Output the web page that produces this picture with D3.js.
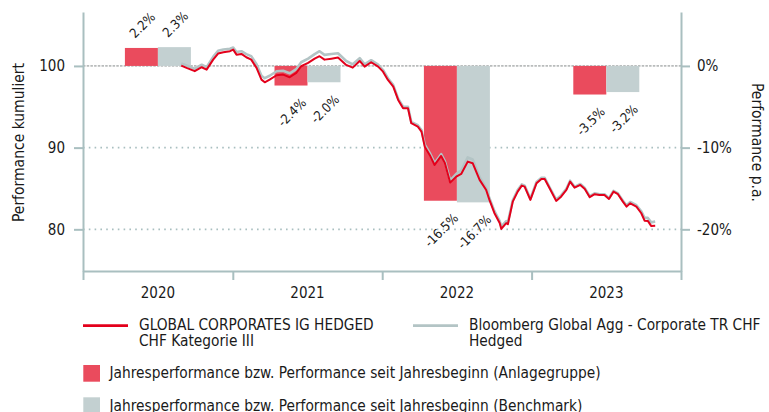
<!DOCTYPE html>
<html>
<head>
<meta charset="utf-8">
<script src="https://cdn.jsdelivr.net/npm/d3@7"></script>
<style>
  body { margin: 0; background: #fff; }
  svg { display: block; }
</style>
</head>
<body>
<div id="chart"></div>
<script>
// yearly bars (percent)
const years = [2020, 2021, 2022, 2023];
const fundYear = [2.2, -2.4, -16.5, -3.5];
const benchYear = [2.3, -2.0, -16.7, -3.2];

// cumulative performance
const dates = [
  "2020-08-28", "2020-09-10", "2020-09-30", "2020-10-17", "2020-10-29", "2020-11-14", "2020-11-26", "2020-12-09", "2020-12-25",
  "2021-01-02", "2021-01-10", "2021-01-22", "2021-02-03", "2021-02-15", "2021-02-28", "2021-03-12", "2021-03-20", "2021-04-01",
  "2021-04-18", "2021-05-04", "2021-05-20", "2021-06-05", "2021-06-17", "2021-07-04", "2021-07-20", "2021-08-01", "2021-08-13",
  "2021-08-30", "2021-09-15", "2021-10-05", "2021-10-21", "2021-11-07", "2021-11-19", "2021-12-05", "2021-12-22",
  "2022-01-03", "2022-01-15", "2022-01-28", "2022-02-09", "2022-02-21", "2022-03-05", "2022-03-13", "2022-03-29", "2022-04-07",
  "2022-04-15", "2022-04-27", "2022-05-09", "2022-05-25", "2022-06-03", "2022-06-16", "2022-07-01", "2022-07-13", "2022-07-29",
  "2022-08-10", "2022-08-27", "2022-09-12", "2022-09-20", "2022-10-02", "2022-10-15", "2022-10-19", "2022-10-31", "2022-11-04",
  "2022-11-16", "2022-11-28", "2022-12-08", "2022-12-15", "2022-12-29",
  "2023-01-13", "2023-01-25", "2023-02-02", "2023-02-14", "2023-03-02", "2023-03-14", "2023-03-27", "2023-04-05", "2023-04-16",
  "2023-04-30", "2023-05-11", "2023-05-23", "2023-06-04", "2023-06-16", "2023-06-28", "2023-07-09", "2023-07-20", "2023-07-31",
  "2023-08-12", "2023-08-21", "2023-08-30", "2023-09-14", "2023-09-26", "2023-10-04", "2023-10-12", "2023-10-20", "2023-10-30"
];
const fund = [
  100.04, 99.76, 99.36, 99.84, 99.55, 100.77, 101.51, 101.68, 101.80,
  102.00, 101.38, 101.47, 101.06, 100.77, 99.76, 98.32, 98.00, 98.32,
  98.86, 98.94, 98.62, 99.14, 99.96, 100.37, 100.89, 101.19, 100.77,
  100.89, 101.02, 100.12, 99.79, 100.61, 99.91, 100.45, 99.91,
  99.30, 98.29, 97.47, 95.84, 94.82, 94.82, 92.99, 92.57, 91.96,
  90.12, 89.11, 87.88, 88.98, 88.13, 85.72, 86.45, 86.78, 88.29,
  88.09, 86.05, 84.82, 83.60, 82.01, 80.78, 80.05, 80.75, 80.62,
  83.39, 84.61, 85.35, 85.23, 83.60,
  85.64, 86.17, 86.17, 85.03, 83.48, 84.00, 84.82, 85.84, 85.10,
  85.43, 84.94, 83.93, 84.30, 84.21, 84.21, 83.72, 84.61, 84.30,
  83.39, 82.78, 83.19, 82.78, 81.97, 81.06, 81.03, 80.42, 80.45
];
const bench = [
  100.30, 100.05, 99.65, 100.15, 99.85, 101.10, 101.85, 102.00, 102.10,
  102.25, 101.70, 101.80, 101.45, 101.20, 100.20, 98.80, 98.50, 98.80,
  99.35, 99.40, 99.10, 99.60, 100.45, 100.90, 101.45, 101.80, 101.35,
  101.45, 101.55, 100.60, 100.20, 100.95, 100.20, 100.70, 100.15,
  99.50, 98.50, 97.65, 96.00, 95.00, 95.00, 93.15, 92.75, 92.15,
  90.35, 89.35, 88.10, 89.20, 88.35, 86.00, 86.80, 87.20, 88.80,
  88.55, 86.40, 85.05, 83.80, 82.25, 81.00, 80.35, 81.00, 80.85,
  83.55, 84.80, 85.50, 85.35, 83.75,
  85.80, 86.30, 86.30, 85.15, 83.65, 84.15, 84.95, 85.95, 85.20,
  85.55, 85.05, 84.05, 84.40, 84.30, 84.30, 83.80, 84.70, 84.40,
  83.50, 82.95, 83.35, 82.95, 82.20, 81.40, 81.40, 80.85, 80.95
];

const leftTicks = [80, 90, 100];
const rightTicks = [-20, -10, 0];
const seriesNames = [
  ["GLOBAL CORPORATES IG HEDGED", "CHF Kategorie III"],
  ["Bloomberg Global Agg - Corporate TR CHF", "Hedged"]
];
const barNames = [
  "Jahresperformance bzw. Performance seit Jahresbeginn (Anlagegruppe)",
  "Jahresperformance bzw. Performance seit Jahresbeginn (Benchmark)"
];

const COL = {
  redLine: "#e3001b", greyLine: "#b3c4c5",
  redBar: "#ea4b5d", greyBar: "#c3d0d1",
  axis: "#a9bfc0", grid: "#a9bfc0", text: "#1a1a1a"
};
const FONT = '"DejaVu Sans Condensed", "DejaVu Sans", sans-serif';

const W = 769, H = 412;
const P = { left: 83, right: 681, top: 12, bottom: 271 };

const svg = d3.select("#chart").append("svg")
  .attr("width", W).attr("height", H)
  .style("font-family", FONT).style("fill", COL.text);

const parse = d3.timeParse("%Y-%m-%d");
const x = d3.scaleTime()
  .domain([new Date(2020, 0, 1), new Date(2024, 0, 1)])
  .range([P.left, P.right]);
const y = d3.scaleLinear().domain([74.9, 106.6]).range([P.bottom, P.top]);
const yPct = d3.scaleLinear().domain([-25.1, 6.6]).range([P.bottom, P.top]);

// grid
const grid = svg.append("g");
grid.selectAll("line.g").data(leftTicks.filter(d => d !== 100)).join("line")
  .attr("x1", P.left).attr("x2", P.right)
  .attr("y1", d => y(d)).attr("y2", d => y(d))
  .attr("stroke", COL.grid).attr("stroke-width", 1.6)
  .attr("stroke-dasharray", "1.6,4.2");
grid.append("line")
  .attr("x1", P.left).attr("x2", P.right)
  .attr("y1", y(100)).attr("y2", y(100))
  .attr("stroke", "#b9bcbc").attr("stroke-width", 1.6)
  .attr("stroke-dasharray", "2.5,1.2");

// yearly bars
const yearStart = yr => x(new Date(yr, 0, 1));
const yearMid = yr => (yearStart(yr) + yearStart(yr + 1)) / 2;
const sub = d3.scaleBand().domain(["fund", "bench"]).range([-33, 33]);
const barData = years.flatMap((yr, i) => [
  { yr, key: "fund", v: fundYear[i], color: COL.redBar },
  { yr, key: "bench", v: benchYear[i], color: COL.greyBar }
]);
const bars = svg.append("g");
bars.selectAll("rect").data(barData).join("rect")
  .attr("x", d => yearMid(d.yr) + sub(d.key))
  .attr("width", sub.bandwidth())
  .attr("y", d => Math.min(yPct(d.v), yPct(0)))
  .attr("height", d => Math.abs(yPct(d.v) - yPct(0)))
  .attr("fill", d => d.color);

// lines
const pts = s => dates.map((d, i) => ({ date: parse(d), v: s[i] }));
const line = d3.line().x(d => x(d.date)).y(d => y(d.v));
svg.append("path").datum(pts(bench))
  .attr("d", line).attr("fill", "none")
  .attr("stroke", COL.greyLine).attr("stroke-width", 2.6)
  .attr("stroke-linejoin", "round");
svg.append("path").datum(pts(fund))
  .attr("d", line).attr("fill", "none")
  .attr("stroke", COL.redLine).attr("stroke-width", 2)
  .attr("stroke-linejoin", "round");

// bar labels, rotated -45deg (plain hyphen as in the source)
const fmt = v => v.toFixed(1) + "%";
bars.selectAll("text").data(barData).join("text")
  .attr("text-anchor", "middle").attr("dominant-baseline", "central")
  .style("font-size", "13px")
  .text(d => fmt(d.v))
  .each(function (d) {
    const len = this.getComputedTextLength();
    const half = (len + 9.5) * Math.SQRT1_2 / 2;
    const cx = yearMid(d.yr) + sub(d.key) + sub.bandwidth() / 2 + 1;
    const cy = d.v >= 0 ? yPct(d.v) - half - 9 : yPct(d.v) + half + 11.5;
    d3.select(this).attr("transform", `translate(${cx},${cy}) rotate(-45)`);
  });

// axes
function styleAxis(g) {
  g.select(".domain").attr("stroke", COL.axis).attr("stroke-width", 2);
  g.selectAll(".tick line").attr("stroke", COL.axis).attr("stroke-width", 2);
  g.selectAll("text").attr("fill", COL.text)
    .style("font-family", FONT).style("font-size", "15px");
}
svg.append("g").attr("transform", `translate(${P.left},0)`)
  .call(d3.axisLeft(y).tickValues(leftTicks).tickSize(9).tickSizeOuter(0).tickPadding(9))
  .call(styleAxis);
svg.append("g").attr("transform", `translate(${P.right},0)`)
  .call(d3.axisRight(yPct).tickValues(rightTicks).tickSize(9).tickSizeOuter(0).tickPadding(7)
    .tickFormat(d => d + "%"))
  .call(styleAxis);
svg.append("g").attr("transform", `translate(0,${P.bottom})`)
  .call(d3.axisBottom(x).tickValues(d3.range(2020, 2025).map(yr => new Date(yr, 0, 1)))
    .tickSize(9).tickSizeOuter(0).tickFormat(""))
  .call(styleAxis);
svg.append("g").selectAll("text").data(years).join("text")
  .attr("x", d => yearMid(d)).attr("y", 298)
  .attr("text-anchor", "middle")
  .style("font-size", "15px")
  .text(d => d);

// axis titles
svg.append("text")
  .attr("transform", `translate(23.5,${(P.top + P.bottom) / 2 + 1}) rotate(-90)`)
  .attr("text-anchor", "middle").style("font-size", "15.5px")
  .text("Performance kumuliert");
svg.append("text")
  .attr("transform", `translate(751.5,${(P.top + P.bottom) / 2 + 1}) rotate(90)`)
  .attr("text-anchor", "middle").style("font-size", "15.5px")
  .text("Performance p.a.");

// legend
const lg = svg.append("g").style("font-size", "15.3px");
const lineItems = [
  { x: 83, color: COL.redLine, lines: seriesNames[0] },
  { x: 413, color: COL.greyLine, lines: seriesNames[1] }
];
lineItems.forEach(it => {
  lg.append("line")
    .attr("x1", it.x).attr("x2", it.x + 45)
    .attr("y1", 325.7).attr("y2", 325.7)
    .attr("stroke", it.color).attr("stroke-width", 2.8);
  const t = lg.append("text").attr("x", it.x + 56).attr("y", 330);
  it.lines.forEach((s, i) => {
    t.append("tspan").attr("x", it.x + 56).attr("dy", i ? 16 : 0).text(s);
  });
});
const barItems = [
  { y: 365, color: COL.redBar, label: barNames[0] },
  { y: 397.3, color: COL.greyBar, label: barNames[1] }
];
barItems.forEach(it => {
  lg.append("rect")
    .attr("x", 83.3).attr("y", it.y)
    .attr("width", 16.7).attr("height", 16.7)
    .attr("fill", it.color);
  lg.append("text").attr("x", 109.5).attr("y", it.y + 13.3).text(it.label);
});
</script>
</body>
</html>
